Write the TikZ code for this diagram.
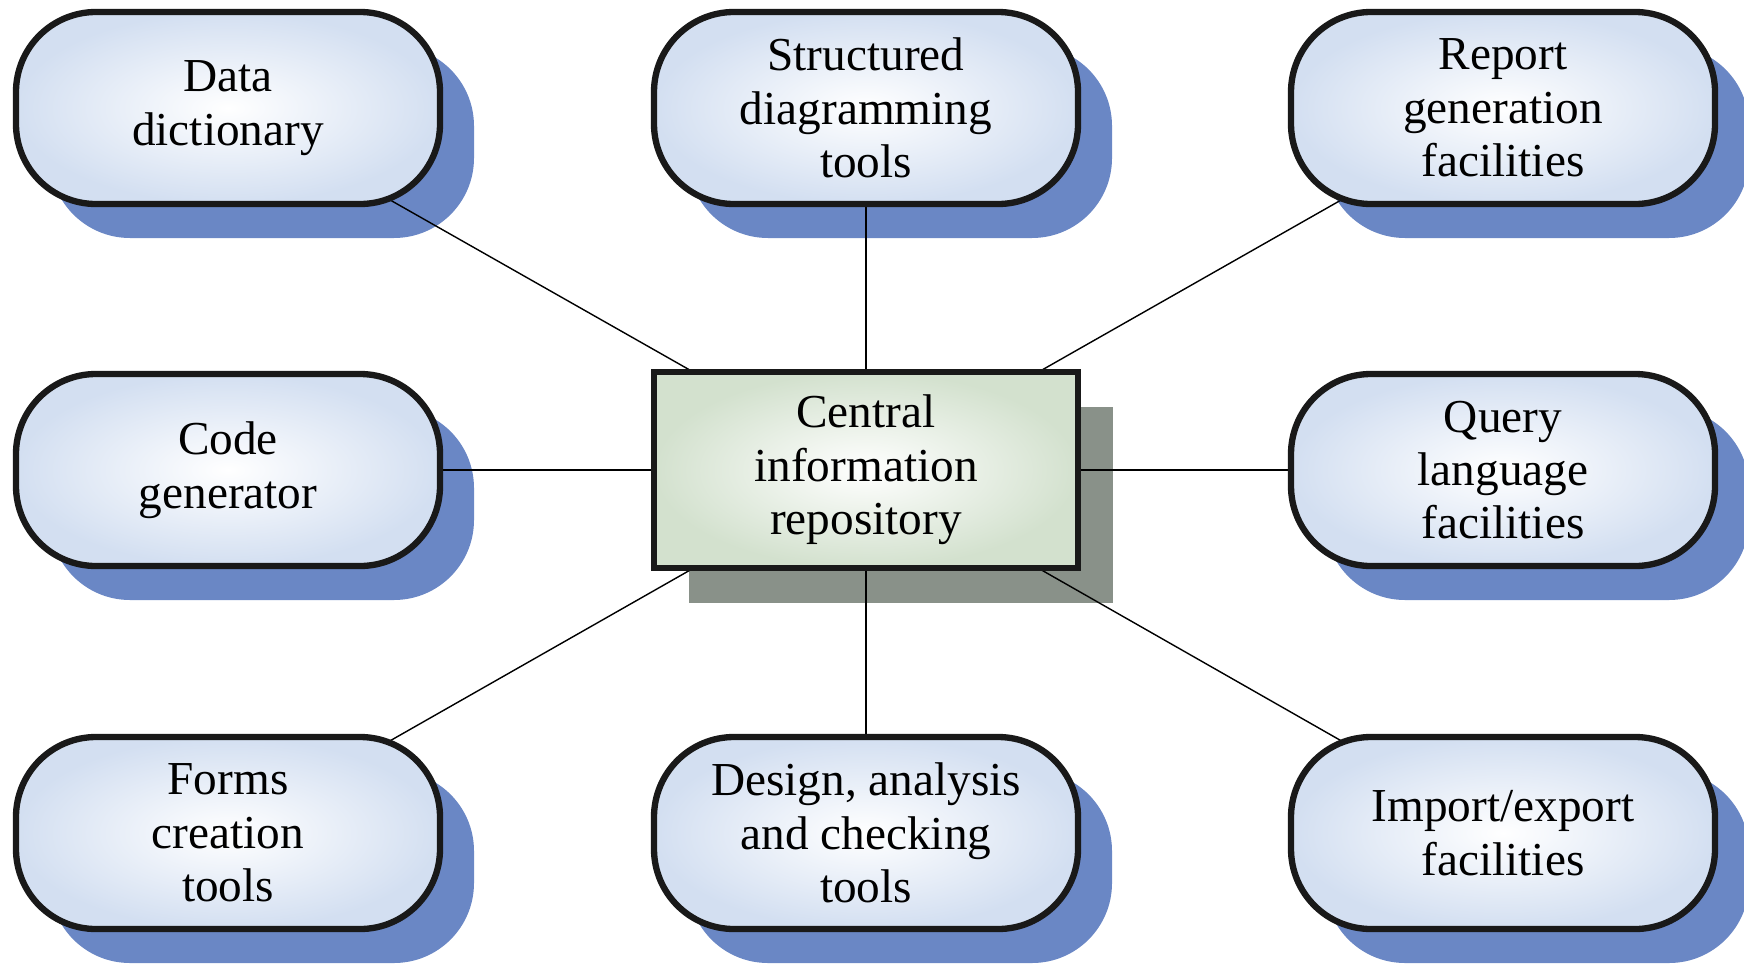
\documentclass[tikz,border=0pt]{standalone}
\usepackage{fontspec}
\setmainfont{Liberation Serif}
\definecolor{pillfill}{HTML}{D3DFF1}
\definecolor{pillshade}{HTML}{6A87C5}
\definecolor{repofill}{HTML}{D3E1CE}
\definecolor{reposhade}{HTML}{899189}
\pgfdeclarelayer{shade}
\pgfdeclarelayer{wires}
\pgfsetlayers{shade,wires,main}
\tikzset{
  tool/.style={draw=black!90, line width=1.8pt, rounded corners=0.8cm,
    minimum width=4.24cm, minimum height=1.92cm, outer sep=0pt,
    inner color=white, outer color=pillfill, align=center,
    font=\fontsize{13.45}{15.2}\selectfont},
  repo/.style={draw=black!90, line width=1.8pt,
    minimum width=4.24cm, minimum height=1.96cm, outer sep=0pt,
    inner color=white, outer color=repofill, align=center,
    font=\fontsize{13.45}{15.2}\selectfont},
  wire/.style={line width=0.4pt}
}
\begin{document}
\begin{tikzpicture}
  \useasboundingbox (0,0) rectangle (17.44,9.63);
  % central repository
  \node[repo] (repo) at (8.66,4.93) {Central\\information\\repository};
  % tools round it
  \node[tool] (dict) at (2.28,8.55) {Data\\dictionary};
  \node[tool] (diag) at (8.66,8.55) {Structured\\diagramming\\tools};
  \node[tool] (report) at (15.03,8.55) {Report\\generation\\facilities};
  \node[tool] (code) at (2.28,4.93) {Code\\generator};
  \node[tool] (query) at (15.03,4.93) {Query\\language\\facilities};
  \node[tool] (forms) at (2.28,1.30) {Forms\\creation\\tools};
  \node[tool] (design) at (8.66,1.30) {Design, analysis\\and checking\\tools};
  \node[tool] (import) at (15.03,1.30) {Import/export\\facilities};
  % shadows
  \begin{pgfonlayer}{shade}
    \foreach \n in {dict,diag,report,code,query,forms,design,import}
      \fill[pillshade, rounded corners=0.8cm]
        ([shift={(0.34,-0.34)}]\n.south west) rectangle ([shift={(0.34,-0.34)}]\n.north east);
    \fill[reposhade] ([shift={(0.35,-0.35)}]repo.south west) rectangle ([shift={(0.35,-0.35)}]repo.north east);
  \end{pgfonlayer}
  % connectors
  \begin{pgfonlayer}{wires}
    \foreach \n in {dict,diag,report,code,query,forms,design,import}
      \draw[wire] (repo.center) -- (\n.center);
  \end{pgfonlayer}
\end{tikzpicture}
\end{document}
